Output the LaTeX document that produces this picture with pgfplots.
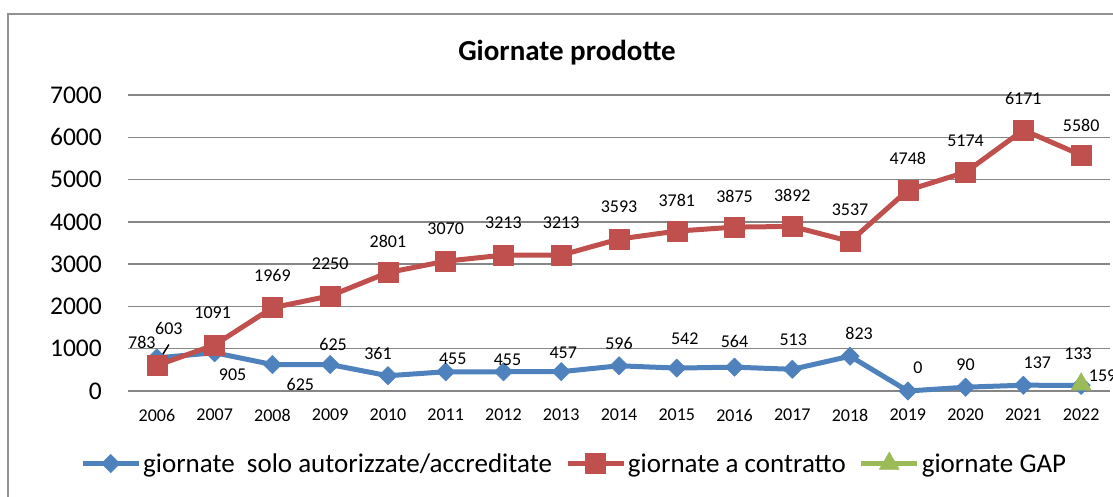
\documentclass[border=0pt]{standalone}
\usepackage{fontspec}
\setmainfont{Carlito}
\usepackage{pgfplots}
\usepackage{pgfplotstable}
\pgfplotsset{compat=1.18}
\definecolor{cblue}{HTML}{4F81BD}
\definecolor{cred}{HTML}{C0504D}
\definecolor{cgreen}{HTML}{9BBB59}
\definecolor{cgrid}{HTML}{868686}

\pgfplotstableread{
x y dx dy
0 783 -15 15
1 905 18 -22
2 625 28 -20
3 625 3 20
4 361 -10 22
5 455 7 13
6 455 4 12
7 457 2 19
8 596 0 22
9 542 8 29
10 564 0 26
11 513 1 30
12 823 9 23
13 0 10 23
14 90 0 22
15 137 14 22
16 133 -3 32
}\blueT

\pgfplotstableread{
x y dx dy
0 603 12 37
1 1091 -2 32
2 1969 0 32
3 2250 0 32
4 2801 0 31
5 3070 0 32
6 3213 0 32
7 3213 0 32
8 3593 0 32
9 3781 0 31
10 3875 0 31
11 3892 0 31
12 3537 0 32
13 4748 0 32
14 5174 0 31
15 6171 0 32
16 5580 0 30
}\redT

\pgfplotstableread{
x y dx dy
16 159 21.5 9
}\greenT

\begin{document}
\begin{tikzpicture}
\path[use as bounding box] (0,0) rectangle (1113pt,497pt);
\clip (0,0) rectangle (1113pt,497pt);
\fill[white] (0,0) rectangle (1113pt,497pt);
\draw[color=cgrid!90, line width=1.5pt] (8pt,-20pt) -- (8pt,483pt) -- (1130pt,483pt);
\node[font=\bfseries\fontsize{29}{33}\selectfont] at (567pt,444pt) {Giornate prodotte};
\begin{axis}[
  at={(128pt,106pt)}, anchor=south west,
  scale only axis, width=982pt, height=296pt,
  xmin=-0.5, xmax=16.5, ymin=0, ymax=7000,
  xtick={0,...,16},
  xticklabels={2006,2007,2008,2009,2010,2011,2012,2013,2014,2015,2016,2017,2018,2019,2020,2021,2022},
  ytick={0,1000,...,7000},
  /pgf/number format/1000 sep={},
  /pgf/number format/assume math mode=true,
  axis line style={draw=none},
  major tick length=0pt,
  ymajorgrids, grid style={color=cgrid, line width=1.5pt},
  yticklabel style={font=\fontsize{25.5}{28}\selectfont, inner sep=0pt, anchor=east},
  yticklabel shift=26pt,
  xticklabel style={font=\fontsize{18}{20}\selectfont, inner sep=0pt, anchor=north},
  xticklabel shift=18pt,
  clip=false,
  legend columns=3,
  legend style={at={(axis description cs:-0.0489,-0.243)}, anchor=west,
    draw=none, fill=none, inner sep=0pt, column sep=2pt,
    font=\fontsize{27}{31}\selectfont,
    nodes={inner sep=0pt},
    /tikz/every even column/.append style={column sep=13pt}},
  legend image code/.code={\draw[mark repeat=2,mark phase=2,#1] plot coordinates {(0pt,0pt) (28pt,0pt) (56pt,0pt)};},
  nodes near coords={\pgfmathprintnumber{\pgfplotspointmeta}},
  visualization depends on={\thisrow{dx} \as \dx},
  visualization depends on={\thisrow{dy} \as \dy},
  every node near coord/.append style={anchor=center, xshift=\dx pt, yshift=\dy pt,
    font=\fontsize{18}{20}\selectfont, text=black, inner sep=0pt},
]
\addplot[color=cblue, line width=5pt, line join=round, mark=square*,
  mark size=6.5pt, mark options={rotate=45, line width=0.5pt, fill=cblue}]
  table[x=x, y=y] {\blueT};
\addlegendentry{giornate\ \ solo autorizzate/accreditate}
\addplot[color=cred, line width=5pt, line join=round, mark=square*,
  mark size=10pt, mark options={line width=0.5pt, fill=cred}]
  table[x=x, y=y] {\redT};
\addlegendentry{giornate a contratto}
\addplot[color=cgreen, line width=5pt, mark=triangle*,
  mark size=11.5pt, mark options={line width=0.5pt, fill=cgreen}]
  table[x=x, y=y] {\greenT};
\addlegendentry{giornate GAP}
\draw[black, line width=1.5pt] (axis cs:0,603) ++(-1pt,0pt) -- ++(13pt,21pt);
\end{axis}
\end{tikzpicture}
\end{document}
